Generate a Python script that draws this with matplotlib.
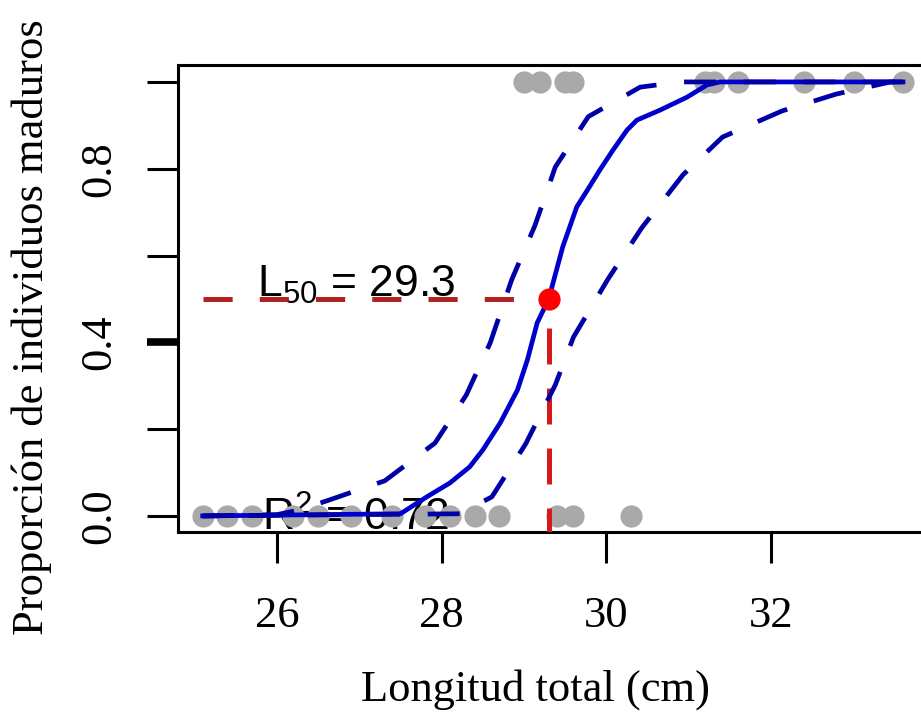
import matplotlib
matplotlib.use('Agg')
import matplotlib.pyplot as plt

plt.rcParams['lines.scale_dashes'] = False

# longitudes observadas (cm): inmaduros (0) y maduros (1)
long_inmaduros = [25.1, 25.4, 25.7, 26.2, 26.5, 26.9, 27.4, 27.8, 28.1, 28.4, 28.7, 29.4, 29.6, 30.3]
long_maduros = [29.0, 29.2, 29.5, 29.6, 31.2, 31.3, 31.6, 32.4, 33.0, 33.6]

# curva ajustada
ajuste_x = [25.1, 27.5, 27.82, 28.10, 28.34, 28.50, 28.71, 28.92, 29.04, 29.16, 29.30,
            29.47, 29.64, 29.77, 29.92, 30.08, 30.25, 30.37, 30.65, 30.98, 31.22, 31.38, 33.6]
ajuste_y = [0.0, 0.005, 0.044, 0.076, 0.113, 0.152, 0.214, 0.290, 0.359, 0.445, 0.50,
            0.620, 0.712, 0.751, 0.797, 0.843, 0.889, 0.912, 0.935, 0.965, 0.993, 1.0, 1.0]

# intervalos de confianza
ic_sup_x = [25.1, 26.0, 26.28, 26.64, 27.31, 27.92, 28.30, 28.59, 28.85, 29.13, 29.38, 29.78, 30.41, 30.90, 33.6]
ic_sup_y = [0.0, 0.003, 0.014, 0.037, 0.081, 0.168, 0.279, 0.399, 0.544, 0.668, 0.804, 0.920, 0.988, 1.0, 1.0]
ic_inf_x = [25.1, 28.22, 28.61, 29.02, 29.38, 29.60, 30.02, 30.43, 30.93, 31.41, 32.13, 32.79, 33.45, 33.6]
ic_inf_y = [0.0, 0.005, 0.044, 0.166, 0.302, 0.412, 0.546, 0.664, 0.786, 0.873, 0.933, 0.972, 1.0, 1.0]

L50 = 29.3
R2 = 0.72

y_ticks = [0.0, 0.2, 0.4, 0.6, 0.8, 1.0]
y_labels = ['0.0', '', '0.4', '', '0.8', '']
x_ticks = [26, 28, 30, 32]

SERIF = 'Liberation Serif'
SANS = 'Liberation Sans'

fig = plt.figure(figsize=(9.21, 7.17), dpi=100)
ax = fig.add_axes([178 / 921, (717 - 532) / 717, 753 / 921, 467 / 717])

ax.set_xlim(24.80, 33.94)
ax.set_ylim(-0.037, 1.039)

# textos dentro del grafico
ax.text(25.76, 0.505, r'$\mathregular{L_{50}}$ = %.1f' % L50, fontsize=32, family=SANS,
        ha='left', va='baseline', zorder=1)
ax.text(25.82, -0.035, r'$\mathregular{R^{2}}$ = %.2f' % R2, fontsize=32, family=SANS,
        ha='left', va='baseline', zorder=1)

# puntos observados
ax.plot(long_inmaduros, [0] * len(long_inmaduros), 'o', color='#A9A9A9', ms=16, mec='none', zorder=2)
ax.plot(long_maduros, [1] * len(long_maduros), 'o', color='#A9A9A9', ms=16, mec='none', zorder=2)

# L50
ax.plot([min(long_inmaduros), L50], [0.5, 0.5], color='#B22222', lw=3.6,
        linestyle=(0, (21, 19.5)), zorder=3)
ax.plot([L50, L50], [0.5, -0.1], color='#D41A1A', lw=3.6,
        linestyle=(22.3, (25.9, 17.3)), zorder=3)

# curva y bandas
ax.plot(ajuste_x, ajuste_y, color='#0000CD', lw=3.4, zorder=4)
ax.plot(ic_sup_x, ic_sup_y, color='#0000A8', lw=3.4, linestyle=(0, (23, 20)), zorder=4)
ax.plot(ic_inf_x, ic_inf_y, color='#0000A8', lw=3.4, linestyle=(10, (23, 20)), zorder=4)

ax.plot([L50], [0.5], 'o', color='red', ms=16, mec='none', zorder=5)

# ejes
for lado in ['left', 'bottom', 'top', 'right']:
    ax.spines[lado].set_linewidth(2.2)

ax.set_xticks(x_ticks)
ax.set_xticklabels([str(t) for t in x_ticks], family=SERIF, fontsize=32)
ax.set_yticks(y_ticks)
ax.set_yticklabels(y_labels, family=SERIF, fontsize=32)
ax.tick_params(axis='both', length=22.3, width=2.2, color='black')
ax.tick_params(axis='x', pad=24)
ax.tick_params(axis='y', pad=20, labelrotation=90)
for lbl in ax.get_yticklabels():
    lbl.set_va('center')
ax.yaxis.get_major_ticks()[2].tick1line.set_markeredgewidth(5.5)

fig.text(535 / 921, 1 - 690 / 717, 'Longitud total (cm)', family=SERIF, fontsize=32,
         ha='center', va='center')
fig.text(32 / 921, 1 - 327 / 717, 'Proporción de individuos maduros', family=SERIF,
         fontsize=32, rotation=90, ha='center', va='center')

fig.savefig('out.png', dpi=100)
